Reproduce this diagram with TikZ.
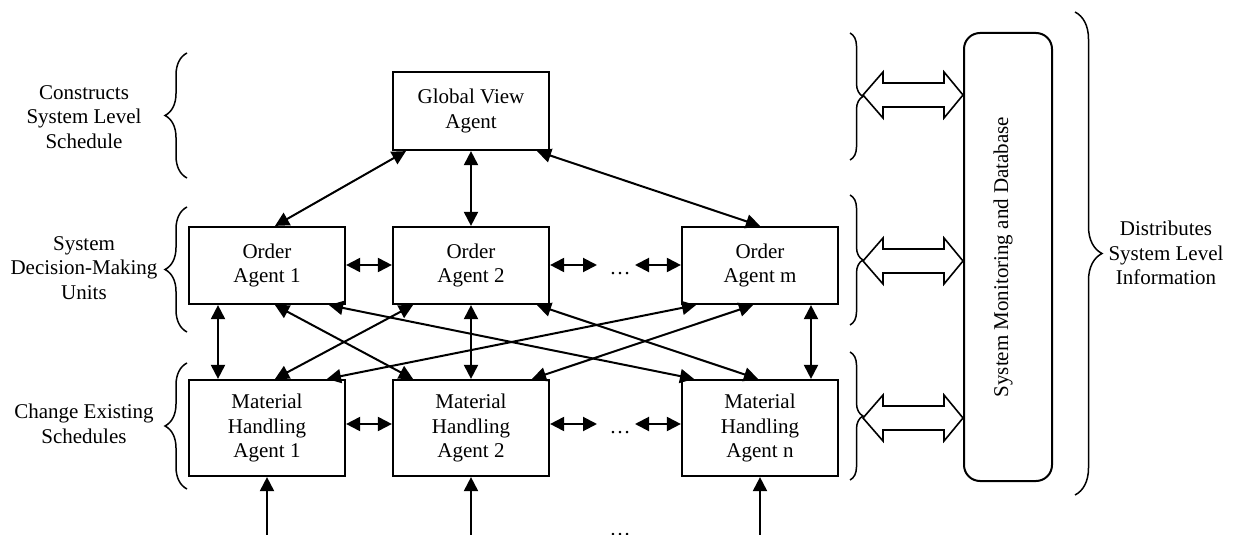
\documentclass[tikz,border=0pt]{standalone}
\usepackage{fontspec}
\setmainfont{Liberation Serif}
\usetikzlibrary{arrows.meta,decorations.pathreplacing}
\begin{document}
\begin{tikzpicture}[x=1pt,y=-1pt,
  txt/.style={font=\fontsize{21}{24.5}\selectfont, align=center, inner sep=0pt},
  agent/.style={txt, draw, line width=2.2pt, minimum width=156pt},
  oabox/.style={agent, minimum height=77pt},
  mhbox/.style={agent, minimum height=96pt},
  smbox/.style={txt, draw, line width=2pt, rounded corners=16pt, minimum width=88pt, minimum height=448pt},
  link/.style={line width=2pt, {Triangle[length=14pt,width=14pt]}-{Triangle[length=14pt,width=14pt]}},
  uplink/.style={line width=2pt, -{Triangle[length=14pt,width=14pt]}},
  lbrace/.style={line width=1.5pt, decorate, decoration={brace, amplitude=22pt}},
  rbrace/.style={line width=1.5pt, decorate, decoration={brace, amplitude=13pt}},
  bigbrace/.style={line width=1.5pt, decorate, decoration={brace, amplitude=27pt}},
  hollow/.style={line width=1.6pt, line join=miter},
  dots/.style={txt, anchor=base}
]
\useasboundingbox (0,0) rectangle (1235,535);

% agents
\node[oabox, minimum height=78pt] (GVA) at (471,111) {Global View\\Agent};
\node[oabox] (OA1) at (267,265.5) {Order\\Agent 1};
\node[oabox] (OA2) at (471,265.5) {Order\\Agent 2};
\node[oabox] (OAm) at (760,265.5) {Order\\Agent m};
\node[mhbox] (MH1) at (267,428) {Material\\Handling\\Agent 1};
\node[mhbox] (MH2) at (471,428) {Material\\Handling\\Agent 2};
\node[mhbox] (MHn) at (760,428) {Material\\Handling\\Agent n};

\node[smbox] (SM) at (1008,257) {\rotatebox{90}{System Monitoring and Database}\hspace*{10pt}};

% dots
\node[dots] (d1) at (620,274) {…};
\node[dots] (d2) at (620,433) {…};
\node[dots] (d3) at (620,535.5) {…};

% free ends
\coordinate (oa2r) at (597,265);
\coordinate (oaml) at (635,265);
\coordinate (mh2r) at (597,424);
\coordinate (mhnl) at (635,424);
\coordinate (b1) at (267,540);
\coordinate (b2) at (471,540);
\coordinate (b3) at (760,540);

% GVA links
\draw[link] ([xshift=-65pt]GVA.south) -- ([xshift=8pt]OA1.north);
\draw[link] (GVA.south) -- (OA2.north);
\draw[link] ([xshift=66pt]GVA.south) -- (OAm.north);

% horizontal links
\draw[link] ([yshift=0.5pt]OA1.east) -- ([yshift=0.5pt]OA2.west);
\draw[link] ([yshift=0.5pt]OA2.east) -- (oa2r);
\draw[link] (oaml) -- ([yshift=0.5pt]OAm.west);
\draw[link] ([yshift=4pt]MH1.east) -- ([yshift=4pt]MH2.west);
\draw[link] ([yshift=4pt]MH2.east) -- (mh2r);
\draw[link] (mhnl) -- ([yshift=4pt]MHn.west);

% vertical links
\draw[link] ([xshift=-49pt]OA1.south) -- ([xshift=-49pt]MH1.north);
\draw[link] (OA2.south) -- (MH2.north);
\draw[link] ([xshift=51pt]OAm.south) -- ([xshift=51pt]MHn.north);

% cross links
\draw[link] ([xshift=8pt]OA1.south) -- ([xshift=-58pt]MH2.north);
\draw[link] ([xshift=62pt]OA1.south) -- ([xshift=-66pt]MHn.north);
\draw[link] ([xshift=8pt]MH1.north) -- ([xshift=-58pt]OA2.south);
\draw[link] ([xshift=60pt]MH1.north) -- ([xshift=-64pt]OAm.south);
\draw[link] ([xshift=66pt]OA2.south) -- ([xshift=-2pt]MHn.north);
\draw[link] ([xshift=61pt]MH2.north) -- ([xshift=-7pt]OAm.south);

% bottom inputs
\draw[uplink] (b1) -- (MH1.south);
\draw[uplink] (b2) -- (MH2.south);
\draw[uplink] (b3) -- (MHn.south);

% left braces and labels
\draw[lbrace] (187,178) -- (187,53);
\draw[lbrace] (187,332) -- (187,207);
\draw[lbrace] (187,489) -- (187,363);
\node[txt] (L1) at (84,117) {Constructs\\System Level\\Schedule};
\node[txt] (L2) at (84,268) {System\\Decision-Making\\Units};
\node[txt] (L3) at (84,424) {Change Existing\\Schedules};

% right braces
\draw[rbrace] (850,33) -- (850,160);
\draw[rbrace] (850,195) -- (850,325);
\draw[rbrace] (850,352) -- (850,480);
\draw[bigbrace] (1075,12) -- (1075,495);
\node[txt] (R1) at (1166,253) {Distributes\\System Level\\Information};

% hollow double arrows
\foreach \yy in {95,261,418}{
  \draw[hollow] (863,\yy) -- (883,\yy-23) -- (883,\yy-12) -- (944,\yy-12) -- (944,\yy-23)
    -- (SM.west |- 0,\yy) -- (944,\yy+23) -- (944,\yy+12) -- (883,\yy+12) -- (883,\yy+23) -- cycle;
}
\end{tikzpicture}
\end{document}
